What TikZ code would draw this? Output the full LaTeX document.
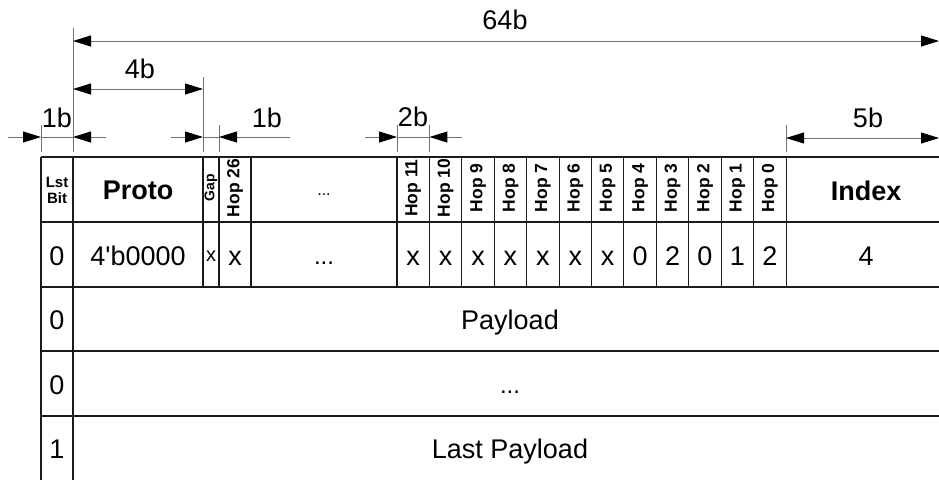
\documentclass[tikz,border=0pt]{standalone}
\usepackage{fontspec}
\setmainfont{Liberation Sans}
\usetikzlibrary{
    arrows.meta,
    positioning,
    calc
}
\definecolor{ink}    {HTML}{1A1A1A}
\definecolor{dimgray}{HTML}{707070}
\newcommand{\fsz}[1]{\fontsize{#1}{#1}\selectfont}

\begin{document}
\begin{tikzpicture}[
    x=1pt, y=-1pt,
    >={Triangle[length=18pt, width=11pt, color=black]},
    %% --- semantic styles ---
    dimline/.style   = {draw=dimgray, line width=1pt},
    frameline/.style = {draw=ink, line width=2.5pt},
    rowline/.style   = {draw=ink, line width=1.8pt},
    cellline/.style  = {draw=ink, line width=1.1pt},
    dimlabel/.style  = {anchor=base, inner sep=0pt, font=\fsz{27}},
    headcell/.style  = {anchor=base, inner sep=0pt, font=\fsz{27}\bfseries},
    hopcell/.style   = {inner sep=0pt, rotate=90, font=\fsz{17.5}\bfseries},
    valcell/.style   = {anchor=base, inner sep=0pt, font=\fsz{27}}
]
\useasboundingbox (0,0) rectangle (939,480);

%% =====================================================
%% Column edges and row levels
%% =====================================================
\foreach \n/\x in {L/41, bit/73, proto/203, gap/219, hopsix/251, R/946}
    \coordinate (x\n) at (\x, 157);
\foreach \i in {0,...,12}
    \coordinate (h\i) at ({397+32.42*\i}, 157);

\coordinate (yhead) at (0, 222);
\coordinate (yval)  at (0, 287);
\coordinate (ypay)  at (0, 351);
\coordinate (ymore) at (0, 416);
\coordinate (ybot)  at (0, 480);

%% =====================================================
%% Dimension lines
%% =====================================================
\coordinate (d64) at (0, 41);
\coordinate (d4)  at (0, 89);
\coordinate (d1)  at (0, 137);
\coordinate (d5)  at (0, 138);

% extension lines
\draw[dimline] (73, 28) -- (73, 152);
\draw[dimline] (203, 77) -- (203, 152);
\foreach \c in {xL, xgap, h0, h1, h12}
    \draw[dimline] ($(\c)+(0,-32)$) -- ($(\c)+(0,-5)$);

% 64b
\coordinate (e64) at (939, 41);
\draw[dimline, <->] (xbit |- d64) -- (e64);
\node[dimlabel] (L64) at (505, 29) {64b};

% 4b
\draw[dimline, <->] (xbit |- d4) -- (xproto |- d4);
\node[dimlabel] (L4) at (140, 78) {4b};

% 1b, last bit
\coordinate (t1a) at (8, 137);
\coordinate (t1b) at (106, 137);
\draw[dimline, ->] (t1a) -- (xL |- d1);
\draw[dimline] (xL |- d1) -- (xbit |- d1);
\draw[dimline, ->] (t1b) -- (xbit |- d1);
\node[dimlabel] (L1A) at (57, 127) {1b};

% 1b, gap
\coordinate (t2a) at (171, 137);
\coordinate (t2b) at (290, 137);
\draw[dimline, ->] (t2a) -- (xproto |- d1);
\draw[dimline] (xproto |- d1) -- (xgap |- d1);
\draw[dimline, ->] (t2b) -- (xgap |- d1);
\node[dimlabel] (L1B) at (267, 127) {1b};

% 2b, one hop
\coordinate (t3a) at (365, 137);
\coordinate (t3b) at (462, 137);
\draw[dimline, ->] (t3a) -- (h0 |- d1);
\draw[dimline] (h0 |- d1) -- (h1 |- d1);
\draw[dimline, ->] (t3b) -- (h1 |- d1);
\node[dimlabel] (L2) at (413, 126) {2b};

% 5b
\coordinate (e5) at (939, 138);
\draw[dimline, <->] (h12 |- d5) -- (e5);
\node[dimlabel] (L5) at (868, 127) {5b};

%% =====================================================
%% Frame
%% =====================================================
\draw[frameline] (xL) -- (xR);
\draw[frameline] (xL |- yhead) -- (xR |- yhead);
\draw[rowline]   (xL |- yval)  -- (xR |- yval);
\draw[rowline]   (xL |- ypay)  -- (xR |- ypay);
\draw[cellline]  (xL |- ymore) -- (xR |- ymore);

\draw[ink, line width=1.6pt] (xL) -- (xL |- ybot);
\draw[cellline] (xbit) -- (xbit |- ybot);
\foreach \c in {xproto, xgap, xhopsix, h0, h1, h2, h3, h4, h5, h6,
                h7, h8, h9, h10, h11, h12}
    \draw[cellline] (\c) -- (\c |- yval);

%% =====================================================
%% Header row
%% =====================================================
\node[inner sep=0pt, align=center, font=\fontsize{15}{16}\selectfont\bfseries]
    (HLST) at (57, 190.5) {Lst\\Bit};
\node[headcell] (HPROTO) at (138, 199) {Proto};
\node[hopcell, font=\fsz{14}\bfseries] (HGAP) at (211, 188) {Gap};
\node[hopcell] (HOP26) at (235, 188) {Hop 26};
\node[anchor=base, inner sep=0pt, font=\fsz{16}] (HDOTS) at (324, 195) {...};
\node[headcell] (HIDX) at (866, 200) {Index};

%% =====================================================
%% First word: header values
%% =====================================================
\node[valcell] (VLST)   at (57, 265)  {0};
\node[valcell] (VPROTO) at (138, 265) {4\textquotesingle b0000};
\node[valcell, font=\fsz{20}] (VGAP) at (211, 261) {x};
\node[valcell] (VAL26)  at (235, 265) {x};
\node[valcell, font=\fsz{24}] (VDOTS) at (324, 264) {...};
\node[valcell] (VIDX)   at (866, 265) {4};

\foreach \n/\v [count=\i from 0] in {11/x, 10/x, 9/x, 8/x, 7/x, 6/x,
                                     5/x, 4/0, 3/2, 2/0, 1/1, 0/2} {
    \node[hopcell] (HOP\n) at ({397+32.42*(\i+0.5)}, 188) {Hop \n};
    \node[valcell] (VAL\n) at ({397+32.42*(\i+0.5)}, 265) {\v};
}

%% =====================================================
%% Payload words
%% =====================================================
\node[valcell] (B1) at (57, 329) {0};
\node[valcell] (P1) at (510, 329) {Payload};
\node[valcell] (B2) at (57, 394) {0};
\node[valcell, font=\fsz{24}] (P2) at (510, 393) {...};
\node[valcell] (B3) at (57, 458) {1};
\node[valcell] (P3) at (510, 458) {Last Payload};

\end{tikzpicture}
\end{document}
